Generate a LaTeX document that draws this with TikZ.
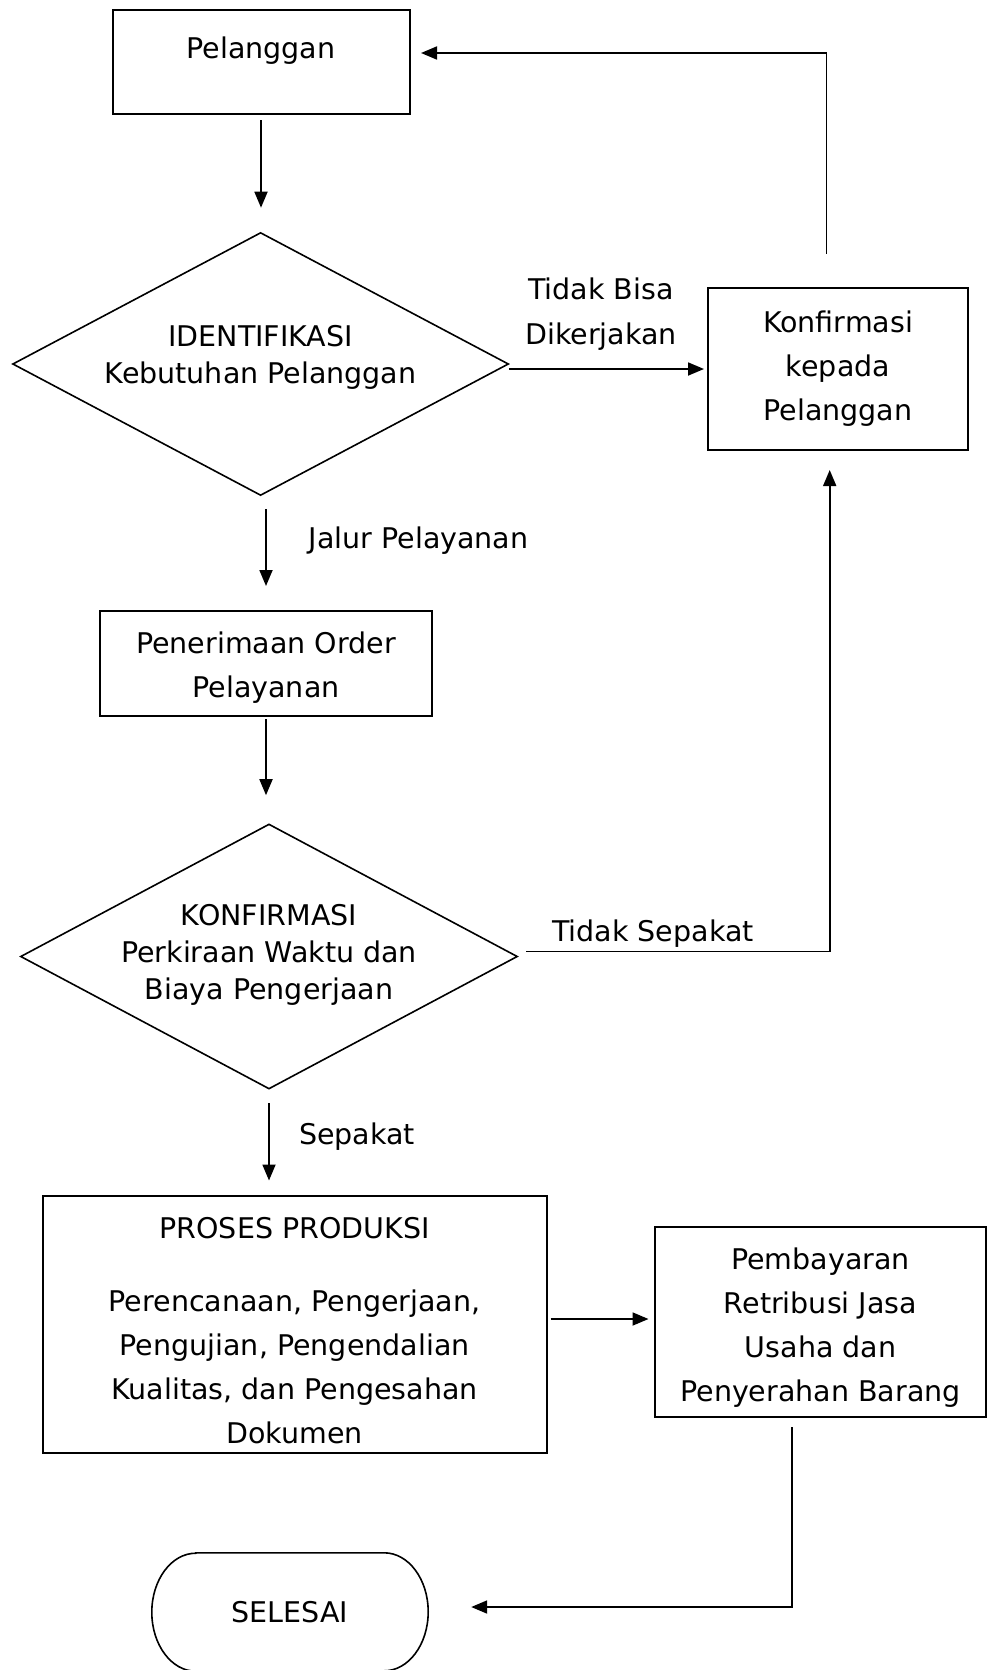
\documentclass[tikz,border=0pt]{standalone}
\usepackage{fontspec}
\setmainfont{DejaVu Sans}
\usetikzlibrary{shapes.geometric,arrows.meta}

\newcommand{\boxgap}[1]{\rule{0pt}{#1}}

\tikzset{
    box node/.style={rectangle,draw,line width=2pt,align=center,inner sep=0,font=\fontsize{28.5}{44}\selectfont},
    decision node/.style={diamond,draw,line width=1.6pt,inner sep=0},
    decision text/.style={align=center,inner sep=0,font=\fontsize{28.5}{37}\selectfont},
    label node/.style={align=center,inner sep=0,font=\fontsize{28.5}{45}\selectfont},
    flow/.style={line width=1.8pt,-{Triangle[length=16pt,width=13pt]}}
    }

\begin{document}
\begin{tikzpicture}[x=1pt,y=1pt]
                \useasboundingbox (0,0) rectangle (987,-1670);
                % main column
                \node(pel)[box node, minimum width=297pt, minimum height=104pt, text depth=28pt] at (261,-62) {Pelanggan};
                \node(iden)[decision node, minimum width=496pt, minimum height=263pt] at (260.6,-364) {};
                \node(idenText)[decision text] at (260.6,-357) {IDENTIFIKASI\\Kebutuhan Pelanggan};
                \node(order)[box node, minimum width=332pt, minimum height=105pt] at (266,-663.5) {\boxgap{30pt}Penerimaan Order\\Pelayanan};
                \node(kons)[decision node, minimum width=497pt, minimum height=265pt] at (269,-956.5) {};
                \node(konsText)[decision text] at (269,-955) {KONFIRMASI\\Perkiraan Waktu dan\\Biaya Pengerjaan};
                \node(proses)[box node, minimum width=504pt, minimum height=257pt] at (294.6,-1324)
                    {\boxgap{34pt}PROSES PRODUKSI\\[29pt]Perencanaan, Pengerjaan,\\Pengujian, Pengendalian\\Kualitas, dan Pengesahan\\Dokumen};
                \node(sel)[label node, minimum width=276pt, minimum height=118pt] at (290,-1612) {SELESAI};
                % right column
                \node(konf)[box node, minimum width=260pt, minimum height=162pt] at (838,-369) {Konfirmasi\\kepada\\Pelanggan};
                \node(bayar)[box node, minimum width=331pt, minimum height=190pt] at (820.5,-1322)
                    {\boxgap{33pt}Pembayaran\\Retribusi Jasa\\Usaha dan\\Penyerahan Barang};
                % labels
                \node(lTidakBisa)[label node] at (601,-314.5) {Tidak Bisa\\Dikerjakan};
                \node(lJalur)[label node] at (418.6,-541) {Jalur Pelayanan};
                \node(lTidakSepakat)[label node] at (653,-934) {Tidak Sepakat};
                \node(lSepakat)[label node] at (357,-1136.5) {Sepakat};

                % terminator outline
                \draw[line width=1.6pt] ([xshift=44pt]sel.north west) -- ([xshift=-44pt]sel.north east)
                    arc[start angle=90, end angle=-90, x radius=44pt, y radius=59pt]
                    -- ([xshift=44pt]sel.south west)
                    arc[start angle=270, end angle=90, x radius=44pt, y radius=59pt] -- cycle;

                % connectors
                \draw[flow, shorten <=5pt, shorten >=24pt] (pel.south) -- (pel.south |- iden.north);
                \draw[flow, shorten <=13pt, shorten >=24pt] (iden.south -| order.north) -- (order.north);
                \draw[flow, shorten <=2pt, shorten >=28pt] (order.south) -- (order.south |- kons.north);
                \draw[flow, shorten <=13.5pt, shorten >=14pt] (kons.south) -- (kons.south |- proses.north);
                \draw[flow, shorten <=3pt, shorten >=5.5pt] ([yshift=5pt]proses.east) -- ([yshift=5pt]proses.east -| bayar.west);
                \draw[flow, shorten <=9pt, shorten >=43pt] ([xshift=-28.5pt]bayar.south) |- ([yshift=5pt]sel.east);
                \draw[flow, shorten >=3pt] (iden.east |- konf.west) -- (konf.west);
                \draw[flow, shorten <=33.5pt, shorten >=10.5pt] ([xshift=-11.5pt]konf.north) |- ([yshift=9pt]pel.east);
                \draw[flow, shorten <=8pt, shorten >=19pt] ([yshift=5pt]kons.east) -| ([xshift=-8.3pt]konf.south);
            \end{tikzpicture}
\end{document}
